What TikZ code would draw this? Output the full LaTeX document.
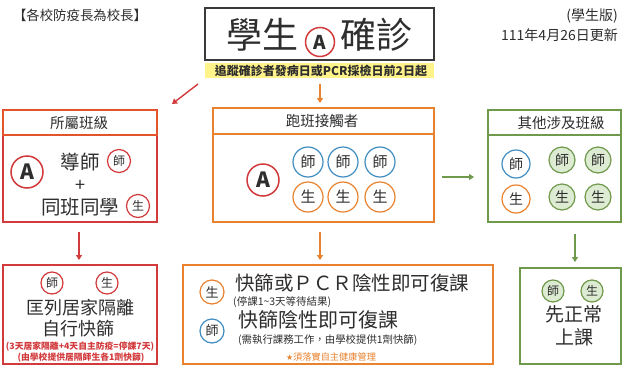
\documentclass[tikz,border=0pt]{standalone}
\usepackage{fontspec}
\setmainfont{Noto Sans CJK TC}
\newfontfamily\djv{DejaVu Sans}
\usetikzlibrary{arrows.meta}
\definecolor{cred}{HTML}{D23A3C}
\definecolor{corr}{HTML}{E2552B}
\definecolor{corg}{HTML}{E8822E}
\definecolor{cgrn}{HTML}{6F9A4C}
\definecolor{cblu}{HTML}{3F8CC0}
\definecolor{cgfl}{HTML}{DDEBD3}
\definecolor{cyel}{HTML}{FFF38A}
\definecolor{cgry}{HTML}{3A3A3A}
\definecolor{ctxt}{HTML}{2E2E2E}
\newcommand\fsz[1]{\fontsize{#1}{#1}\selectfont}
\begin{document}
\begin{tikzpicture}[x=1pt,y=-1pt,
  every node/.style={inner sep=0pt,text=ctxt},
  bodybox/.style={draw=#1,line width=1.4pt,rectangle,minimum width=154pt},
  headbox/.style={draw=#1,line width=2.6pt,rectangle,fill=white},
  ring/.style={circle,draw=#1,line width=1.2pt,inner sep=0pt},
  sring/.style={minimum size=23pt,font=\fsz{12}},
  mring/.style={minimum size=30pt,font=\fsz{15}},
  acirc/.style={circle,draw=cred,line width=1.5pt,inner sep=0pt,minimum size=32pt,font=\fsz{21}\bfseries},
  arr/.style={line width=1.4pt,-{Triangle[length=5pt,width=6pt]}},
  hd/.style={font=\fsz{14.5}},
  big/.style={font=\fsz{19.5}},
]
\useasboundingbox[fill=white] (0,0) rectangle (623,367);

% top texts
\node[font=\fsz{13.4}] (tl) at (80,15) {【各校防疫長為校長】};
\node[font=\fsz{14},anchor=east] (ver) at (618,16) {(學生版)};
\node[font=\fsz{14},anchor=east] (date) at (618,35) {111年4月26日更新};

% title
\node[draw=cgry,line width=1.6pt,minimum width=229pt,minimum height=52pt] (title) at (319.5,34) {};
\node[font=\fsz{36}] (t1) at (262.5,35) {學生};
\node[font=\fsz{36}] (t2) at (376,35) {確診};
\node[acirc,minimum size=29pt,font=\fsz{19}\bfseries] (tA) at (320,42) {A};
\node[fill=cyel,minimum width=229pt,minimum height=15pt] (yel) at (319.5,70.5) {};
\node[font=\fsz{12}\bfseries] (ytxt) at (321,70.5) {追蹤確診者發病日或PCR採檢日前2日起};

% left column
\node[bodybox=cred,minimum height=87pt] (lb) at (80,178.5) {};
\node[headbox=corr,minimum width=154pt,minimum height=25pt] (lh) at (80,122.5) {};
\node[hd] (lht) at (79,123) {所屬班級};
\node[acirc] (lA) at (27,172) {A};
\node[big] (lt1) at (80,162) {導師};
\node[ring=cred,sring] (lc1) at (119,161) {師};
\node[font=\fsz{18}] (lplus) at (80,186) {+};
\node[big] (lt2) at (80,207) {同班同學};
\node[ring=cred,sring] (lc2) at (138,206) {生};

% middle column
\node[bodybox=corg,minimum width=221pt,minimum height=88pt] (mb) at (323.5,178) {};
\node[headbox=corg,minimum width=221pt,minimum height=26pt] (mh) at (323.5,121) {};
\node[hd] (mht) at (322,121) {跑班接觸者};
\node[acirc] (mA) at (263,180) {A};
\foreach \x/\n in {308/1,343/2,380/3}{
  \node[ring=cblu,mring] (mt\n) at (\x,162) {師};
  \node[ring=corg,mring] (ms\n) at (\x,197) {生};
}

% right column
\node[bodybox=cgrn,minimum width=133pt,minimum height=87pt] (rb) at (554.5,178.5) {};
\node[headbox=cgrn,minimum width=133pt,minimum height=25pt] (rh) at (554.5,122.5) {};
\node[hd] (rht) at (561,123) {其他涉及班級};
\node[ring=cblu,minimum size=28pt,font=\fsz{14}] (rt0) at (516,164) {師};
\node[ring=corg,minimum size=28pt,font=\fsz{14}] (rs0) at (516,199) {生};
\foreach \x/\n in {562/1,598/2}{
  \node[ring=cgrn,fill=cgfl,minimum size=26pt,font=\fsz{14}] (rt\n) at (\x,160) {師};
  \node[ring=cgrn,fill=cgfl,minimum size=26pt,font=\fsz{14}] (rs\n) at (\x,197) {生};
}

% bottom boxes
\node[draw=cred,line width=1.3pt,minimum width=154pt,minimum height=99pt] (lbb) at (80,314.5) {};
\node[ring=cred,minimum size=22pt,font=\fsz{12}] (lbc1) at (52,283) {師};
\node[ring=cred,minimum size=22pt,font=\fsz{12}] (lbc2) at (107,283) {生};
\node[font=\fsz{18}] (lbt1) at (80,308) {匡列居家隔離};
\node[font=\fsz{18}] (lbt2) at (78,329) {自行快篩};
\node[font=\fsz{8.8}\bfseries,text=cred] (lbt3) at (80,347) {(3天居家隔離+4天自主防疫=停課7天)};
\node[font=\fsz{8.8}\bfseries,text=cred] (lbt4) at (81,357.5) {(由學校提供居隔師生各1劑快篩)};

\node[draw=corg,line width=1.3pt,minimum width=310pt,minimum height=99pt] (mbb) at (338,314.5) {};
\node[ring=corg,minimum size=24pt,font=\fsz{13}] (mbc1) at (212,292) {生};
\node[font=\fsz{19.5},anchor=west] (mbt1) at (235,283) {快篩或ＰＣＲ陰性即可復課};
\node[font=\fsz{10.5},anchor=west] (mbt2) at (233,302) {(停課1\char`\~3天等待結果)};
\node[ring=cblu,minimum size=24pt,font=\fsz{13}] (mbc2) at (212,331) {師};
\node[font=\fsz{20},anchor=west] (mbt3) at (238,320) {快篩陰性即可復課};
\node[font=\fsz{10.4},anchor=west] (mbt4) at (238,340) {(需執行課務工作，由學校提供1劑快篩)};
\node[font=\fsz{9.2},text=corg] (mbt5) at (331,357) {{\djv\fsz{8}★}須落實自主健康管理};

\node[draw=cgrn,line width=1.3pt,minimum width=101pt,minimum height=96pt] (rbb) at (570.5,316) {};
\node[ring=cgrn,fill=cgfl,minimum size=22pt,font=\fsz{12}] (rbc1) at (553,291) {師};
\node[ring=cgrn,fill=cgfl,minimum size=22pt,font=\fsz{12}] (rbc2) at (592,291) {生};
\node[font=\fsz{19}] (rbt1) at (574,314) {先正常};
\node[font=\fsz{19}] (rbt2) at (574,337) {上課};

% connectors
\coordinate (a1s) at (198,84); \coordinate (a1e) at (172,104);
\draw[arr,color=cred] (a1s) -- (a1e);
\coordinate (a2s) at (320,84); \coordinate (a2e) at (320,103);
\draw[arr,color=corg] (a2s) -- (a2e);
\coordinate (a3s) at (79,232); \coordinate (a3e) at (79,260);
\draw[arr,color=cred] (a3s) -- (a3e);
\coordinate (a4s) at (320,232); \coordinate (a4e) at (320,260);
\draw[arr,color=corg] (a4s) -- (a4e);
\coordinate (a5s) at (575,234); \coordinate (a5e) at (575,262);
\draw[arr,color=cgrn] (a5s) -- (a5e);
\coordinate (a6s) at (442,177); \coordinate (a6e) at (474,177);
\draw[arr,color=cgrn] (a6s) -- (a6e);
\end{tikzpicture}
\end{document}
